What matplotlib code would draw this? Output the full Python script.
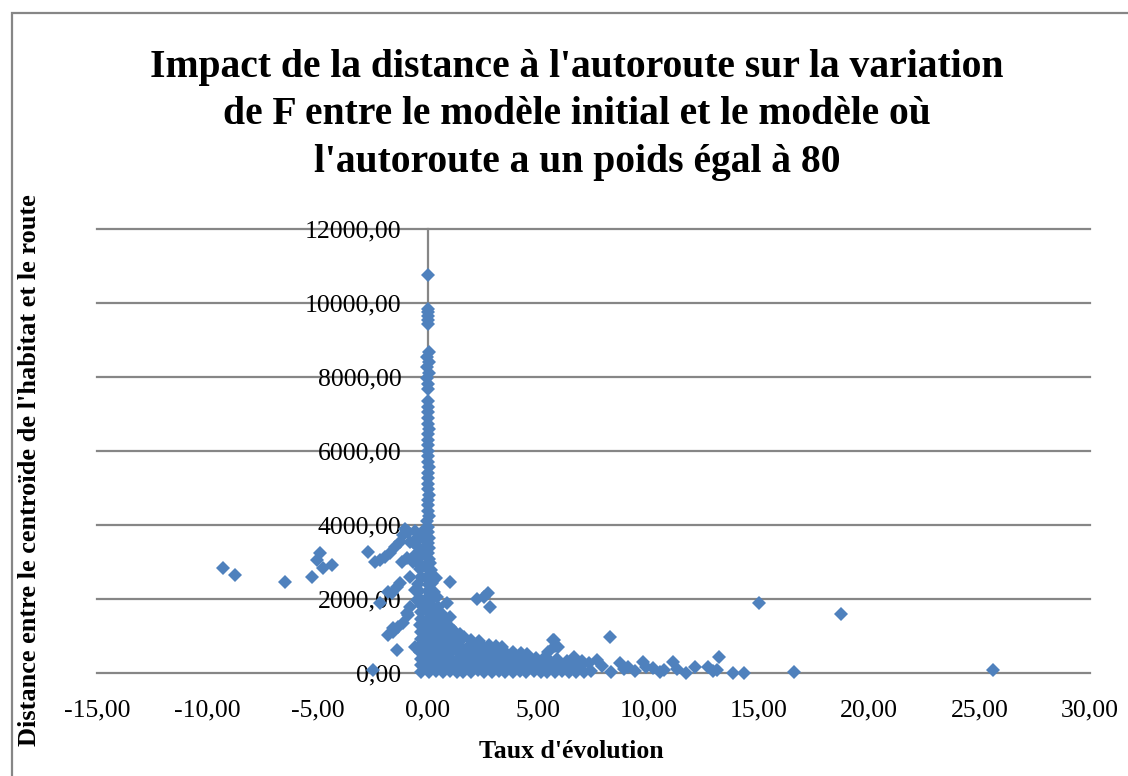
import matplotlib
matplotlib.use("Agg")
import matplotlib.pyplot as plt
from matplotlib.patches import Rectangle
from matplotlib.ticker import FuncFormatter

# Taux d'évolution (x) / distance centroïde-route (y), par groupes de points

# colonne serrée autour de 0
colonne = [
    (0.00, 10750), (0.01, 9850), (-0.02, 9750), (0.02, 9650), (0.00, 9550), (-0.01, 9420),
    (0.03, 8680), (-0.04, 8540), (0.05, 8400), (-0.03, 8260), (0.04, 8110), (-0.05, 7960),
    (0.02, 7820), (-0.02, 7680),
    (0.00, 7340), (0.02, 7180), (-0.01, 7050), (0.01, 6890), (0.00, 6740), (0.03, 6600),
    (-0.02, 6450), (0.01, 6310), (0.00, 6150), (0.02, 6000), (-0.01, 5860), (0.01, 5710),
    (0.03, 5560), (0.00, 5400), (-0.02, 5270), (0.02, 5120), (0.00, 4960), (0.04, 4820),
    (-0.01, 4680), (0.02, 4530), (0.00, 4390), (0.03, 4240), (-0.03, 4100), (0.02, 3950),
    (0.00, 3810), (0.05, 3660), (-0.02, 3520), (0.03, 3380), (0.00, 3230), (0.04, 3090),
    (-0.03, 2940), (0.02, 2800), (0.05, 2650), (0.00, 2510), (0.03, 2370), (-0.02, 2220),
    (0.04, 2080), (0.01, 1930), (0.05, 1790), (0.00, 1650), (0.03, 1500), (-0.02, 1360),
    (0.04, 1210), (0.01, 1070), (0.05, 930), (0.00, 780), (0.03, 640), (-0.02, 500),
    (0.04, 360), (0.01, 210), (0.02, 70),
]

# nuage dense entre 0 et 7
nuage = [
    (-0.30, 40), (0.05, 20), (0.35, 50), (0.70, 30), (1.00, 60), (1.30, 20), (1.60, 40),
    (1.95, 30), (2.25, 70), (2.55, 20), (2.90, 40), (3.20, 60), (3.50, 30), (3.85, 20),
    (4.15, 50), (4.45, 30), (4.80, 60), (5.10, 20), (5.40, 40), (5.75, 30), (6.05, 60),
    (6.40, 20), (6.70, 40), (7.05, 30), (7.40, 50),
    (-0.32, 210), (0.20, 190), (0.50, 230), (0.80, 180), (1.15, 220), (1.45, 200),
    (1.75, 170), (2.10, 230), (2.40, 200), (2.70, 180), (3.05, 220), (3.35, 190),
    (3.65, 240), (4.00, 200), (4.30, 170), (4.60, 220), (4.95, 190), (5.25, 230),
    (5.60, 180), (5.90, 210), (6.25, 160), (6.60, 230), (6.95, 180),
    (-0.30, 390), (0.15, 370), (0.45, 400), (0.75, 360), (1.05, 380), (1.40, 410),
    (1.70, 370), (2.00, 390), (2.35, 360), (2.65, 400), (2.95, 380), (3.30, 350),
    (3.60, 410), (3.90, 370), (4.25, 390), (4.55, 360), (4.90, 400), (5.20, 370),
    (5.50, 340), (5.85, 390), (6.30, 330),
    (-0.35, 570), (0.10, 550), (0.40, 580), (0.70, 560), (1.00, 540), (1.30, 590),
    (1.65, 560), (1.95, 530), (2.25, 580), (2.60, 550), (2.90, 600), (3.20, 560),
    (3.55, 530), (3.85, 580), (4.20, 550), (4.50, 520), (5.45, 560),
    (-0.30, 750), (0.20, 730), (0.50, 760), (0.85, 720), (1.15, 770), (1.45, 740),
    (1.80, 710), (2.10, 760), (2.45, 730), (2.75, 770), (3.10, 720), (3.35, 690),
    (5.75, 720),
    (-0.33, 930), (0.10, 910), (0.40, 940), (0.70, 900), (1.00, 950), (1.35, 920),
    (1.65, 980), (1.95, 900), (2.30, 870), (5.70, 880),
    (-0.30, 1110), (0.20, 1090), (0.50, 1120), (0.85, 1080), (1.20, 1130), (1.45, 1060),
    (-0.35, 1290), (0.15, 1270), (0.45, 1300), (0.75, 1260), (1.00, 1250),
    (-0.30, 1470), (0.20, 1450), (0.50, 1480), (0.80, 1430),
    (-0.32, 1650), (0.15, 1630), (0.45, 1660), (0.65, 1600),
    (-0.30, 1830), (0.20, 1810), (0.45, 1790),
    (-0.35, 2010), (0.20, 1990), (0.40, 2050),
    (-0.40, 2210), (0.25, 2190), (-0.45, 2400), (0.20, 2420), (-0.30, 2600), (0.15, 2620),
    (0.35, 2560), (-0.35, 2800), (0.15, 2790), (-0.50, 3000), (0.10, 2980), (-0.60, 3200),
    (-0.25, 3180), (-0.45, 3400), (-0.20, 3350), (-0.70, 3550), (-0.45, 3600),
    (-0.20, 3650), (-0.90, 3800), (-0.60, 3850), (-0.30, 3750), (-1.05, 3900), (-0.15, 3900),
]

# points à gauche (taux négatifs)
gauche = [
    (-9.29, 2840), (-8.74, 2650), (-6.48, 2460), (-5.26, 2600), (-4.90, 3240), (-5.03, 3050),
    (-4.76, 2840), (-4.35, 2920), (-2.72, 3270), (-2.40, 3000), (-2.17, 3050), (-1.95, 3135),
    (-1.72, 3240), (-1.50, 3405), (-1.27, 3540), (-1.13, 3730), (-0.90, 3810), (-0.82, 3540),
    (-1.18, 3000), (-0.95, 3100), (-0.68, 3000), (-0.82, 2600), (-1.27, 2430), (-1.40, 2320),
    (-1.63, 2160), (-1.81, 2190), (-2.17, 1890), (-0.60, 2240), (-0.50, 1970), (-0.82, 1780),
    (-0.90, 1570), (-0.95, 1620), (-1.13, 1350), (-1.36, 1240), (-1.59, 1110), (-1.81, 1030),
    (-1.59, 1220), (-1.40, 620), (-0.60, 700), (-2.50, 80),
]

# points isolés à droite
droite = [
    (1.00, 2460), (0.86, 1890), (1.00, 1510), (2.20, 2000), (2.55, 2060), (2.70, 2160),
    (2.80, 1780), (5.66, 890), (5.90, 700), (6.60, 420), (7.00, 330), (7.30, 260),
    (7.66, 350), (7.90, 180), (8.25, 970), (8.30, 30), (8.70, 270), (8.90, 110),
    (9.06, 160), (9.40, 60), (9.74, 300), (9.90, 150), (10.20, 135), (10.50, 40),
    (10.70, 80), (11.10, 300), (11.30, 120), (11.70, 0), (12.10, 160), (12.70, 160),
    (12.90, 60), (13.10, 80), (13.20, 430), (13.80, 0), (14.30, 0), (15.00, 1890),
    (16.60, 20), (18.70, 1600), (25.60, 80),
]

titre = ("Impact de la distance à l'autoroute sur la variation\n"
         "de F entre le modèle initial et le modèle où\n"
         "l'autoroute a un poids égal à 80")
xlabel = "Taux d'évolution"
ylabel = "Distance entre le centroïde de l'habitat et le route"
xticks = [-15, -10, -5, 0, 5, 10, 15, 20, 25, 30]
yticks = [0, 2000, 4000, 6000, 8000, 10000, 12000]

bleu = "#4F81BD"
gris = "#868686"
serif = "Liberation Serif"

fig = plt.figure(figsize=(11.28, 7.76), dpi=100)
ax = fig.add_axes([97 / 1128, 1 - 673 / 776, 993 / 1128, 444 / 776])

for y in yticks:
    ax.axhline(y, color=gris, lw=1.6, zorder=1, clip_on=False)

for groupe in (colonne, nuage, gauche, droite):
    xs, ys = zip(*groupe)
    ax.plot(xs, ys, linestyle="none", marker="D", ms=7.3, mew=0,
            color=bleu, zorder=3, clip_on=False)

ax.set_xlim(-15, 30)
ax.set_ylim(0, 12000)
ax.set_xticks(xticks)
ax.set_yticks(yticks)

virgule = FuncFormatter(lambda v, pos: f"{v:.2f}".replace(".", ","))
ax.xaxis.set_major_formatter(virgule)
ax.yaxis.set_major_formatter(virgule)

for side in ("top", "right", "bottom"):
    ax.spines[side].set_visible(False)
ax.spines["left"].set_position(("data", 0))
ax.spines["left"].set_color(gris)
ax.spines["left"].set_linewidth(1.6)
ax.spines["left"].set_zorder(2)

ax.tick_params(length=0, pad=19, labelsize=18.5)
for lab in ax.get_xticklabels() + ax.get_yticklabels():
    lab.set_fontfamily(serif)

fig.text(577 / 1128, 1 - 115 / 776, titre, ha="center", va="center",
         fontsize=28.5, fontweight="bold", family=serif, linespacing=1.36)
fig.text(571 / 1128, 1 - 752 / 776, xlabel, ha="center", va="center",
         fontsize=18.5, fontweight="bold", family=serif)
fig.text(30 / 1128, 1 - 470 / 776, ylabel, ha="center", va="center",
         rotation=90, fontsize=19, fontweight="bold", family=serif)

fig.add_artist(Rectangle((12 / 1128, -0.05), 1.2, 1 - 13 / 776 + 0.05,
                         transform=fig.transFigure, fill=False,
                         edgecolor=gris, lw=1.6))

fig.savefig("out.png", dpi=100)
